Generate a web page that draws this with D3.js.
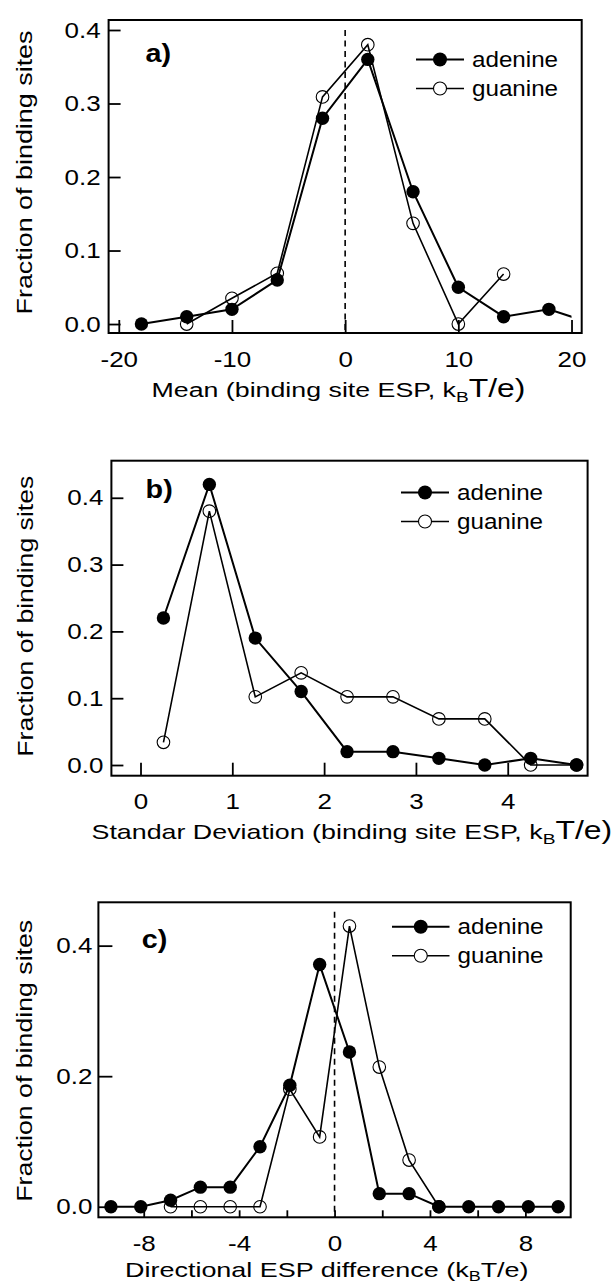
<!DOCTYPE html>
<html>
<head>
<meta charset="utf-8">
<script src="https://cdn.jsdelivr.net/npm/d3@7"></script>
<style>
  body { margin: 0; background: #fff; }
  svg { display: block; }
  text { font-family: "Liberation Sans", Arial, Helvetica, sans-serif; fill: #000; }
</style>
</head>
<body>
<svg id="chart" width="614" height="1287"></svg>
<script>
// a) mean binding site ESP
const meanX = [-18, -14, -10, -6, -2, 2, 6, 10, 14, 18, 22];
const meanAdenine = [0.0, 0.01, 0.02, 0.06, 0.28, 0.36, 0.18, 0.05, 0.01, 0.02, 0.0];
const meanGuanineX = [-14, -10, -6, -2, 2, 6, 10, 14];
const meanGuanine = [0.0, 0.035, 0.069, 0.309, 0.38, 0.137, 0.0, 0.068];
const meanXTicks = [-20, -10, 0, 10, 20];
const meanYTicks = [0.0, 0.1, 0.2, 0.3, 0.4];

// b) standard deviation of binding site ESP
const sdX = [0.25, 0.75, 1.25, 1.75, 2.25, 2.75, 3.25, 3.75, 4.25, 4.75];
const sdAdenine = [0.22, 0.42, 0.19, 0.11, 0.02, 0.02, 0.01, 0.0, 0.01, 0.0];
const sdGuanine = [0.034, 0.38, 0.102, 0.138, 0.102, 0.102, 0.069, 0.069, 0.0, 0.0];
const sdXTicks = [0, 1, 2, 3, 4];
const sdYTicks = [0.0, 0.1, 0.2, 0.3, 0.4];

// c) directional ESP difference
const dirX = [-9.375, -8.125, -6.875, -5.625, -4.375, -3.125, -1.875, -0.625,
  0.625, 1.875, 3.125, 4.375, 5.625, 6.875, 8.125, 9.375];
const dirAdenine = [0, 0, 0.01, 0.03, 0.03, 0.092, 0.186, 0.371, 0.237, 0.02, 0.02, 0, 0, 0, 0, 0];
const dirGuanineX = [-6.875, -5.625, -4.375, -3.125, -1.875, -0.625, 0.625, 1.875, 3.125, 4.375];
const dirGuanine = [0, 0, 0, 0, 0.18, 0.107, 0.43, 0.214, 0.0715, 0];
const dirXTicks = [-8, -6, -4, -2, 0, 2, 4, 6, 8];
const dirXLabels = [-8, -4, 0, 4, 8];
const dirYTicks = [0.0, 0.2, 0.4];

const legendNames = ['adenine', 'guanine'];
const yTitle = 'Fraction of binding sites';

const svg = d3.select('#chart');
const TICK_STRETCH = 1.18;

// widen a text around its anchor point (the source figure has wide lettering)
function widen(sel, sx) {
  sel.each(function () {
    const t = d3.select(this);
    const x = +t.attr('x') || 0;
    const y = +t.attr('y') || 0;
    t.attr('transform', 'translate(' + x + ',' + y + ') scale(' + sx + ',1) translate(' + (-x) + ',' + (-y) + ')');
  });
}

function fitWidth(t, x0, target) {
  const w = t.node().getBBox().width;
  const sx = target / w;
  t.attr('transform', 'translate(' + x0 + ',0) scale(' + sx + ',1) translate(' + (-x0) + ',0)');
}

function drawPanel(p) {
  const x = d3.scaleLinear().domain(p.xDomain).range([p.left, p.right]);
  const y = d3.scaleLinear().domain(p.yDomain).range([p.bottom, p.top]);
  const g = svg.append('g');

  // ticks (inward)
  const xAxis = g.append('g')
    .attr('transform', 'translate(0,' + p.bottom + ')')
    .call(d3.axisBottom(x).tickValues(p.xTicks).tickSizeInner(-p.xTickLen).tickSizeOuter(0)
      .tickPadding(18).tickFormat(d => p.xLabels.includes(d) ? String(d) : ''));
  const yAxis = g.append('g')
    .attr('transform', 'translate(' + p.left + ',0)')
    .call(d3.axisLeft(y).tickValues(p.yTicks).tickSizeInner(-p.yTickLen).tickSizeOuter(0)
      .tickPadding(p.yPad).tickFormat(d3.format('.1f')));
  [xAxis, yAxis].forEach(a => {
    a.select('.domain').remove();
    a.selectAll('line').attr('stroke', '#000').attr('stroke-width', 1.8);
    a.selectAll('text').attr('font-size', 22).attr('fill', '#000')
      .attr('font-family', '"Liberation Sans", Arial, sans-serif');
    widen(a.selectAll('text'), TICK_STRETCH);
  });

  // frame
  g.append('rect')
    .attr('x', p.left).attr('y', p.top)
    .attr('width', p.right - p.left).attr('height', p.bottom - p.top)
    .attr('fill', 'none').attr('stroke', '#000').attr('stroke-width', 2);

  // zero line
  if (p.dashTop) {
    g.append('line')
      .attr('x1', x(0)).attr('x2', x(0))
      .attr('y1', p.dashTop).attr('y2', p.bottom)
      .attr('stroke', '#000').attr('stroke-width', 1.6)
      .attr('stroke-dasharray', '6,4.5');
  }

  const clipId = 'clip' + p.name;
  const clipRight = p.clipX !== undefined ? x(p.clipX) : p.right;
  svg.append('clipPath').attr('id', clipId).append('rect')
    .attr('x', p.left).attr('y', p.top)
    .attr('width', clipRight - p.left).attr('height', p.bottom - p.top);
  const plot = g.append('g').attr('clip-path', 'url(#' + clipId + ')');

  const line = d3.line().x(d => x(d[0])).y(d => y(d[1]));

  // guanine first, adenine on top
  const gPts = p.gx.map((v, i) => [v, p.gy[i]]);
  plot.append('path').datum(gPts).attr('d', line)
    .attr('fill', 'none').attr('stroke', '#000').attr('stroke-width', 1.6);
  plot.selectAll('.gdot').data(gPts).enter().append('circle')
    .attr('cx', d => x(d[0])).attr('cy', d => y(d[1])).attr('r', 6.3)
    .attr('fill', 'none').attr('stroke', '#000').attr('stroke-width', 1.1);

  const aPts = p.ax.map((v, i) => [v, p.ay[i]]);
  plot.append('path').datum(aPts).attr('d', line)
    .attr('fill', 'none').attr('stroke', '#000').attr('stroke-width', 2);
  plot.selectAll('.adot').data(aPts).enter().append('circle')
    .attr('cx', d => x(d[0])).attr('cy', d => y(d[1])).attr('r', 6.7)
    .attr('fill', '#000');

  // legend
  legendNames.forEach((name, i) => {
    const ly = p.legY + i * 29;
    const mx = (p.legX1 + p.legX2) / 2;
    g.append('line').attr('x1', p.legX1).attr('x2', p.legX2).attr('y1', ly).attr('y2', ly)
      .attr('stroke', '#000').attr('stroke-width', i === 0 ? 2 : 1.5);
    g.append('circle').attr('cx', mx).attr('cy', ly).attr('r', i === 0 ? 7 : 6.5)
      .attr('fill', i === 0 ? '#000' : '#fff').attr('stroke', '#000').attr('stroke-width', i === 0 ? 0 : 1.1);
    const t = g.append('text').attr('x', p.legX2 + 8).attr('y', ly + 7.5)
      .attr('font-size', 22).text(name);
    widen(t, 1.1);
  });

  // panel label
  const lab = g.append('text').attr('x', p.labX).attr('y', p.labY)
    .attr('font-size', 25).attr('font-weight', 'bold').text(p.label);
  widen(lab, 1.15);

  // x title
  const tt = g.append('text').attr('x', p.titleX).attr('y', p.titleY).attr('font-size', 21);
  p.title.forEach(part => {
    const s = tt.append('tspan').attr('font-size', part.size).text(part.t);
    if (part.dy) s.attr('dy', part.dy);
  });
  fitWidth(tt, p.titleX, p.titleW);

  // y title
  g.append('text')
    .attr('transform', 'translate(' + p.yTitleX + ',' + ((p.top + p.bottom) / 2 + p.yTitleShift) + ') rotate(-90)')
    .attr('text-anchor', 'middle').attr('font-size', 22)
    .attr('textLength', p.yTitleLen).attr('lengthAdjust', 'spacingAndGlyphs')
    .text(yTitle);
}

drawPanel({
  name: 'a', left: 108.6, right: 581.7, top: 20, bottom: 333,
  xDomain: [-20.9, 20.9], yDomain: [-0.0122, 0.4136],
  xTicks: meanXTicks, xLabels: meanXTicks, xTickLen: 13,
  yTicks: meanYTicks, yTickLen: 12, yPad: 8,
  ax: meanX, ay: meanAdenine, gx: meanGuanineX, gy: meanGuanine, clipX: 20,
  dashTop: 30,
  legX1: 416, legX2: 464, legY: 59.5,
  label: 'a)', labX: 145.6, labY: 62,
  title: [{ t: 'Mean (binding site ESP, k', size: 21 }, { t: 'B', size: 15, dy: 5 }, { t: 'T/e)', size: 25, dy: -5 }],
  titleX: 151.5, titleY: 397, titleW: 374,
  yTitleX: 31.5, yTitleShift: -4, yTitleLen: 284
});

drawPanel({
  name: 'b', left: 111.4, right: 587.6, top: 460.7, bottom: 775.7,
  xDomain: [-0.317, 4.87], yDomain: [-0.016, 0.4555],
  xTicks: sdXTicks, xLabels: sdXTicks, xTickLen: 13,
  yTicks: sdYTicks, yTickLen: 12, yPad: 8,
  ax: sdX, ay: sdAdenine, gx: sdX, gy: sdGuanine,
  dashTop: null,
  legX1: 401, legX2: 449, legY: 492.5,
  label: 'b)', labX: 145.6, labY: 498,
  title: [{ t: 'Standar Deviation (binding site ESP, k', size: 21 }, { t: 'B', size: 15, dy: 5 }, { t: 'T/e)', size: 25, dy: -5 }],
  titleX: 91.5, titleY: 839, titleW: 521,
  yTitleX: 33, yTitleShift: -2, yTitleLen: 281
});

drawPanel({
  name: 'c', left: 98.4, right: 570.7, top: 902.3, bottom: 1217.3,
  xDomain: [-9.9, 9.9], yDomain: [-0.0162, 0.4664],
  xTicks: dirXTicks, xLabels: dirXLabels, xTickLen: 7,
  yTicks: dirYTicks, yTickLen: 14, yPad: 6,
  ax: dirX, ay: dirAdenine, gx: dirGuanineX, gy: dirGuanine,
  dashTop: 911.7,
  legX1: 392, legX2: 449.5, legY: 926.7,
  label: 'c)', labX: 141.7, labY: 948,
  title: [{ t: 'Directional ESP difference (k', size: 21 }, { t: 'B', size: 14, dy: 4 }, { t: 'T/e)', size: 21, dy: -4 }],
  titleX: 125, titleY: 1277, titleW: 404,
  yTitleX: 31.5, yTitleShift: 1, yTitleLen: 282
});
</script>
</body>
</html>
